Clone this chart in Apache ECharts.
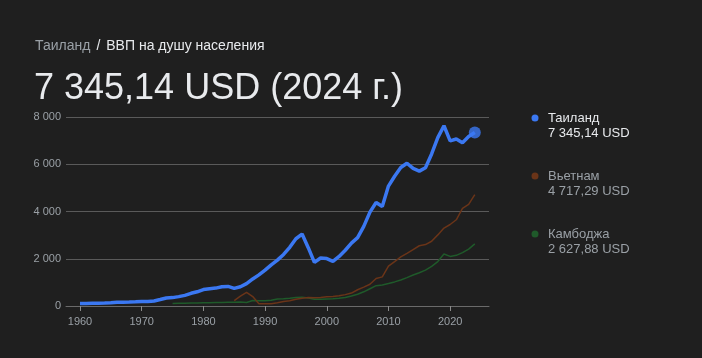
<!DOCTYPE html>
<html><head><meta charset="utf-8">
<script src="https://cdn.jsdelivr.net/npm/echarts@6/dist/echarts.min.js"></script>
<style>html,body{margin:0;padding:0;background:#1f1f1f;}#c{width:702px;height:358px;}</style>
</head><body><div id="c"></div>
<script>
// ---- data ----
var countries = ['Таиланд', 'Вьетнам', 'Камбоджа'];
var lastValues = ['7 345,14 USD', '4 717,29 USD', '2 627,88 USD'];
var breadcrumb = 'Таиланд';
var metric = 'ВВП на душу населения';
var headline = '7 345,14 USD (2024 г.)';
var xTicks = [1960, 1970, 1980, 1990, 2000, 2010, 2020];
var yTicks = [0, 2000, 4000, 6000, 8000];

var thStart = 1960;
var thValues = [101,107,112,116,124,134,155,161,169,180,192,194,213,275,339,355,397,450,537,602,
  696,733,757,812,829,748,817,946,1144,1317,1518,1740,1941,2181,2483,2847,3045,2468,1846,2033,
  2008,1891,2097,2359,2660,2894,3370,3974,4380,4213,5076,5492,5861,6042,5822,5709,5854,6437,7125,7629,
  6991,7067,6910,7172,7345.14];
var vnStart = 1985;
var vnValues = [231,422,580,400,100,95,100,141,186,222,286,330,356,354,362,390,405,430,482,548,
  687,797,919,1165,1232,1684,1880,2080,2230,2390,2550,2600,2740,3010,3300,3450,3650,4130,4300,4717.29];
var cbStart = 1975;
var cbValues = [110,115,120,125,130,135,140,145,150,155,160,165,150,230,220,220,240,300,310,330,
  360,370,340,290,290,300,310,330,360,420,500,600,730,860,890,950,1020,1100,1200,1310,
  1410,1520,1680,1880,2200,2100,2145,2260,2410,2627.88];

function pairs(start, vals){ return vals.map(function(v,i){ return [start+i, v]; }); }
var colors = ['#3b78f2', '#6a3418', '#1f5a2a'];
var FONT = '"Liberation Sans", Arial, sans-serif';

var chart = echarts.init(document.getElementById('c'), null, {renderer:'canvas'});
var thData = pairs(thStart, thValues);

function legendItem(i, y){
  var active = i === 0;
  return [
    {type:'circle', shape:{cx:535, cy:y, r:3.5}, style:{fill:colors[i]}},
    {type:'text', x:548, y:y, style:{text:countries[i], fill: active?'#e8eaed':'#9aa0a6', font:'13px '+FONT, verticalAlign:'middle'}},
    {type:'text', x:548, y:y+15, style:{text:lastValues[i], fill: active?'#e8eaed':'#9aa0a6', font:'13px '+FONT, verticalAlign:'middle'}}
  ];
}

chart.setOption({
  backgroundColor:'#1f1f1f',
  animation:false,
  textStyle:{fontFamily:FONT},
  grid:{left:66, right:213, top:117, bottom:52},
  xAxis:{
    type:'value', min:1957.73, max:2026.3,
    splitLine:{show:false},
    axisLine:{show:true, lineStyle:{color:'#6a6a6a', width:1}},
    axisTick:{show:true, customValues:xTicks, length:5, lineStyle:{color:'#8a8a8a'}},
    axisLabel:{customValues:xTicks, color:'#9aa0a6', fontSize:11, margin:10, formatter:function(v){return String(v);}}
  },
  yAxis:{
    type:'value', min:yTicks[0], max:yTicks[yTicks.length-1], interval:2000,
    axisLine:{show:false}, axisTick:{show:false},
    splitLine:{lineStyle:{color:'#5a5a5a', width:1}},
    axisLabel:{color:'#9aa0a6', fontSize:11, margin:5, formatter:function(v){ return v===0?'0':(v/1000)+' 000'; }}
  },
  series:[
    {type:'line', data:pairs(cbStart, cbValues), showSymbol:false, lineStyle:{color:colors[2], width:1.5}, z:2},
    {type:'line', data:pairs(vnStart, vnValues), showSymbol:false, lineStyle:{color:colors[1], width:1.5}, z:3},
    {type:'line', data:thData, showSymbol:false, lineStyle:{color:colors[0], width:3.5}, z:4},
    {type:'scatter', data:[thData[thData.length-1]], symbolSize:12, itemStyle:{color:colors[0]}, z:5}
  ],
  graphic:[
    {type:'text', x:35, y:46, style:{
      text:'{a|'+breadcrumb+'}{b|/}{c|'+metric+'}',
      verticalAlign:'middle',
      rich:{
        a:{fill:'#9aa0a6', font:'14px '+FONT},
        b:{fill:'#e8eaed', font:'14px '+FONT, padding:[0,6,0,6]},
        c:{fill:'#e8eaed', font:'14px '+FONT}
      }}},
    {type:'text', x:34, y:89, style:{text:headline, fill:'#e8eaed', font:'36px '+FONT, verticalAlign:'middle'}}
  ].concat(legendItem(0,118), legendItem(1,176), legendItem(2,234))
});
</script></body></html>
